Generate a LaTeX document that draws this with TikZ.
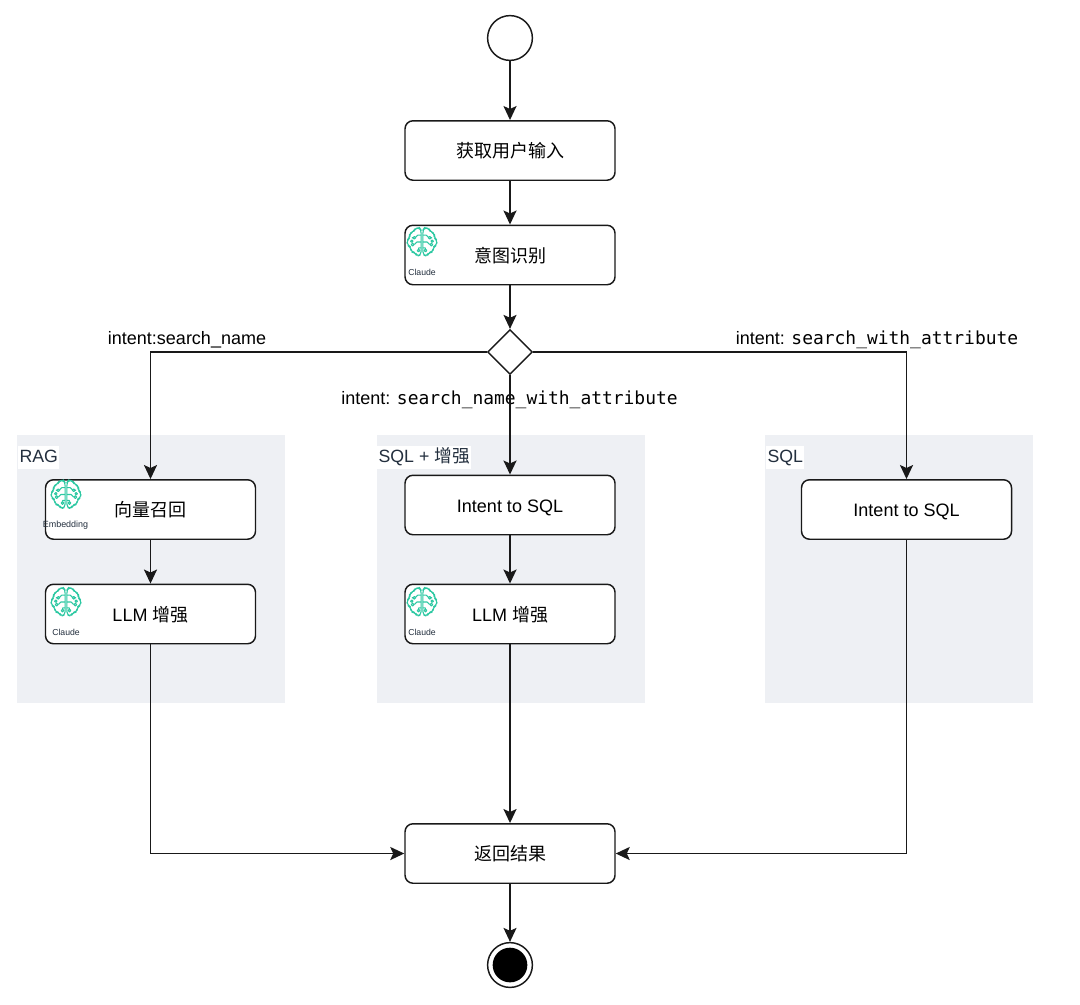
\documentclass[tikz,border=0pt]{standalone}
\usepackage{fontspec}
\setmainfont{Liberation Sans}
\setmonofont{DejaVu Sans Mono}
\newfontfamily\cjk{Noto Sans CJK SC}
\usetikzlibrary{arrows.meta,shapes.geometric}
\definecolor{grp}{HTML}{EEF0F4}
\definecolor{teal}{HTML}{2CC8A2}
\definecolor{ink}{HTML}{232F3E}
\tikzset{
  x=0.75pt,y=-0.75pt,
  edge/.style={draw=black!90,line width=1.1pt,-{Stealth[length=10.5pt,width=9.8pt,inset=2.2pt]}},
  box/.style={draw=black!90,fill=white,line width=1.1pt,rounded corners=6pt,minimum width=157.5pt,minimum height=44.6pt,inner sep=0pt,text height=12pt,text depth=1.4pt,font=\fontsize{13.5}{15}\selectfont},
  grpbox/.style={fill=grp,draw=none,minimum width=201pt,minimum height=201pt,inner sep=0pt},
  grplabel/.style={fill=white,text=ink,anchor=west,inner xsep=1pt,inner ysep=2pt,text height=10pt,text depth=3pt,font=\fontsize{13.3}{15}\selectfont},
  edgelabel/.style={font=\fontsize{13.5}{15}\selectfont,inner sep=0pt,text=black,text height=10pt,text depth=3pt},
  small/.style={text=ink,inner sep=0pt},
  brain/.pic={
    \begin{scope}[scale=0.85,draw=teal,line width=0.8pt,line join=round]
      \foreach \s in {1,-1}{
        \begin{scope}[xscale=\s]
          \draw[rounded corners=2.5pt] (1,-14)--(3,-17)--(8,-16)--(10,-12)--(15,-10)--(14,-5)--(18,-2)--(17,4)--(13,6)--(13,12)--(8,12)--(6,17)--(1,15)--cycle;
          \draw (1,-8)--(5,-8)--(8,-5) (1,0)--(6,0)--(9,3) (1,7)--(4,7)--(4,10) (8,-5)--(12,-5);
          \draw[fill=white] (9,-5) circle (1.6) (11,3) circle (1.6) (4,10) circle (1.6) (12,-1) circle (1.4);
        \end{scope}
      }
    \end{scope}
  }
}
\begin{document}
\begin{tikzpicture}
\useasboundingbox (0,0) rectangle (1080,1004);
% groups
\node[grpbox] (g1) at (151,569) {};
\node[grpbox] (g2) at (510.5,569) {};
\node[grpbox] (g3) at (899,569) {};
\node[grplabel] (g1l) at (18,457.5) {RAG};
\node[grplabel] (g2l) at (377,457.5) {SQL + {\cjk 增强}};
\node[grplabel] (g3l) at (766,457.5) {SQL};
% edge labels (under the connectors)
\node[edgelabel] (l1) at (187,340) {intent:search\_name};
\node[edgelabel,anchor=west] (l2) at (341,400) {intent: {\ttfamily\fontsize{13.45}{15}\selectfont search\_name\_with\_attribute}};
\node[edgelabel,anchor=west] (l3) at (735.5,340) {intent: {\ttfamily\fontsize{13.45}{15}\selectfont search\_with\_attribute}};
% nodes
\node[circle,draw=black!90,fill=white,line width=1.1pt,minimum size=33.6pt,inner sep=0pt] (start) at (510,38) {};
\node[box] (input) at (510,150.5) {\cjk 获取用户输入};
\node[box] (intent) at (510,255) {\cjk 意图识别};
\node[diamond,draw=black!90,fill=white,line width=1.1pt,minimum width=33.6pt,minimum height=33.6pt,inner sep=0pt] (dia) at (510,352) {};
\node[box] (vec) at (150.5,509.5) {\cjk 向量召回};
\node[box] (llma) at (150.5,614) {LLM {\cjk 增强}};
\node[box] (sqlb) at (510,505) {Intent to SQL};
\node[box] (llmb) at (510,614) {LLM {\cjk 增强}};
\node[box] (sqlc) at (906.5,509.5) {Intent to SQL};
\node[box] (ret) at (510,853.5) {\cjk 返回结果};
\node[circle,draw=black!90,fill=white,line width=1.1pt,minimum size=33.6pt,inner sep=0pt] (stop) at (510,965) {};
\node[circle,fill=black,minimum size=26pt,inner sep=0pt] (stopdot) at (510,965) {};
% icons
\pic at (422,242) {brain};
\pic at (66,494.5) {brain};
\pic at (66,602) {brain};
\pic at (422,602) {brain};
\node[small,font=\fontsize{6.5}{7}\selectfont] (c1) at (422,272) {Claude};
\node[small,font=\fontsize{6.7}{7}\selectfont] (c2) at (65.5,525) {Embedding};
\node[small,font=\fontsize{6.5}{7}\selectfont] (c3) at (66,632) {Claude};
\node[small,font=\fontsize{6.5}{7}\selectfont] (c4) at (422,632) {Claude};
% connectors
\draw[edge] (start) -- (input);
\draw[edge] (input) -- (intent);
\draw[edge] (intent) -- (dia);
\draw[edge] (dia.west) -| (vec.north);
\draw[edge] (dia.south) -- (sqlb.north);
\draw[edge] (dia.east) -| (sqlc.north);
\draw[edge] (vec) -- (llma);
\draw[edge] (sqlb) -- (llmb);
\draw[edge] (llma.south) |- (ret.west);
\draw[edge] (llmb) -- (ret);
\draw[edge] (sqlc.south) |- (ret.east);
\draw[edge] (ret) -- (stop);
\end{tikzpicture}
\end{document}
